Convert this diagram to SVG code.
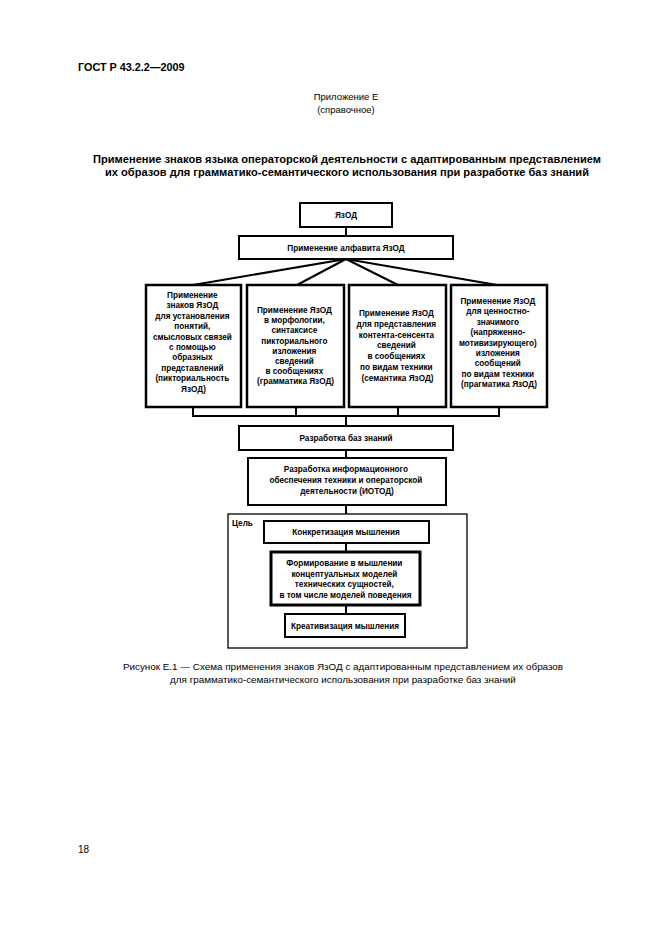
<svg xmlns="http://www.w3.org/2000/svg" width="661" height="935" viewBox="0 0 661 935">
<style>
text{font-family:"Liberation Sans",Arial,sans-serif;fill:#000}
.hdr{font-size:10.8px;font-weight:bold}
.reg{font-size:9.5px;text-anchor:middle}
.cap{font-size:9.85px;text-anchor:middle}
.ttl{font-size:11.1px;font-weight:bold;text-anchor:middle}
.bx{font-size:8.2px;font-weight:bold;text-anchor:middle}
.n{fill:#fff;stroke:#000;stroke-width:2}
.n4{fill:#fff;stroke:#000;stroke-width:2.5}
.nt{fill:#fff;stroke:#000;stroke-width:3}
.outer{fill:none;stroke:#000;stroke-width:1.3}
.c{fill:none;stroke:#000;stroke-width:2}
</style>
<rect width="661" height="935" fill="#fff"/>
<text class="hdr" x="78" y="71">ГОСТ Р 43.2.2—2009</text>
<text class="reg" x="346" y="100">Приложение Е</text>
<text class="reg" x="346" y="113">(справочное)</text>
<text class="ttl" x="347" y="163">Применение знаков языка операторской деятельности с адаптированным представлением</text>
<text class="ttl" x="347" y="176">их образов для грамматико-семантического использования при разработке баз знаний</text>

<g id="connectors">
<line class="c" x1="346" y1="227" x2="346" y2="236"/>
<line class="c" x1="346" y1="259" x2="193" y2="285"/>
<line class="c" x1="346" y1="259" x2="297" y2="285"/>
<line class="c" x1="346" y1="259" x2="398" y2="285"/>
<line class="c" x1="346" y1="259" x2="497" y2="285"/>
<line class="c" x1="193" y1="407" x2="193" y2="416"/>
<line class="c" x1="296" y1="407" x2="296" y2="416"/>
<line class="c" x1="398" y1="407" x2="398" y2="416"/>
<line class="c" x1="499" y1="407" x2="499" y2="416"/>
<line class="c" x1="192" y1="416" x2="500" y2="416"/>
<line class="c" x1="346" y1="416" x2="346" y2="426"/>
<line class="c" x1="346" y1="450" x2="346" y2="458"/>
<line class="c" x1="346" y1="505" x2="346" y2="514"/>
<line class="c" x1="346" y1="543" x2="346" y2="552"/>
<line class="c" x1="346" y1="605" x2="346" y2="614"/>
</g>

<g id="yazod">
<rect class="n" x="300" y="203" width="92" height="24"/>
<text class="bx" x="346" y="218">ЯзОД</text>
</g>
<g id="alphabet">
<rect class="n" x="239" y="236" width="214" height="23"/>
<text class="bx" x="346" y="251">Применение алфавита ЯзОД</text>
</g>

<g id="box1">
<rect class="n4" x="146" y="285" width="95" height="122"/>
<text class="bx">
<tspan x="193.5" y="298">Применение</tspan>
<tspan x="193.5" y="308.4">знаков ЯзОД</tspan>
<tspan x="193.5" y="318.8">для установления</tspan>
<tspan x="193.5" y="329.2">понятий,</tspan>
<tspan x="193.5" y="339.6">смысловых связей</tspan>
<tspan x="193.5" y="350">с помощью</tspan>
<tspan x="193.5" y="360.4">образных</tspan>
<tspan x="193.5" y="370.8">представлений</tspan>
<tspan x="193.5" y="381.2">(пикториальность</tspan>
<tspan x="193.5" y="391.6">ЯзОД)</tspan>
</text>
</g>

<g id="box2">
<rect class="n4" x="247" y="285" width="97" height="122"/>
<text class="bx">
<tspan x="295.5" y="313">Применение ЯзОД</tspan>
<tspan x="295.5" y="323.2">в морфологии,</tspan>
<tspan x="295.5" y="333.4">синтаксисе</tspan>
<tspan x="295.5" y="343.6">пикториального</tspan>
<tspan x="295.5" y="353.8">изложения</tspan>
<tspan x="295.5" y="364">сведений</tspan>
<tspan x="295.5" y="374.2">в сообщениях</tspan>
<tspan x="295.5" y="384.4">(грамматика ЯзОД)</tspan>
</text>
</g>

<g id="box3">
<rect class="n4" x="349" y="285" width="97" height="122"/>
<text class="bx">
<tspan x="397.5" y="316">Применение ЯзОД</tspan>
<tspan x="397.5" y="326.8">для представления</tspan>
<tspan x="397.5" y="337.6">контента-сенсента</tspan>
<tspan x="397.5" y="348.4">сведений</tspan>
<tspan x="397.5" y="359.2">в сообщениях</tspan>
<tspan x="397.5" y="370">по видам техники</tspan>
<tspan x="397.5" y="380.8">(семантика ЯзОД)</tspan>
</text>
</g>

<g id="box4">
<rect class="n4" x="451" y="285" width="96" height="122"/>
<text class="bx">
<tspan x="499" y="304">Применение ЯзОД</tspan>
<tspan x="499" y="314.4">для ценностно-</tspan>
<tspan x="499" y="324.8">значимого</tspan>
<tspan x="499" y="335.2">(напряженно-</tspan>
<tspan x="499" y="345.6">мотивизирующего)</tspan>
<tspan x="499" y="356">изложения</tspan>
<tspan x="499" y="366.4">сообщений</tspan>
<tspan x="499" y="376.8">по видам техники</tspan>
<tspan x="499" y="387.2">(прагматика ЯзОД)</tspan>
</text>
</g>

<g id="kb">
<rect class="n" x="239" y="426" width="214" height="24"/>
<text class="bx" x="346" y="441">Разработка баз знаний</text>
</g>

<g id="iotod">
<rect class="n" x="248" y="458" width="198" height="47"/>
<text class="bx">
<tspan x="347" y="472">Разработка информационного</tspan>
<tspan x="347" y="483">обеспечения техники и операторской</tspan>
<tspan x="347" y="494">деятельности (ИОТОД)</tspan>
</text>
</g>

<g id="goal">
<rect class="outer" x="228" y="514" width="239" height="134"/>
<text class="bx" x="232" y="526" style="text-anchor:start">Цель</text>
</g>

<g id="concretization">
<rect class="n" x="264" y="521" width="165" height="22"/>
<text class="bx" x="346" y="535">Конкретизация мышления</text>
</g>

<g id="formation">
<rect class="nt" x="271" y="552" width="149" height="53"/>
<text class="bx">
<tspan x="345.5" y="566">Формирование в мышлении</tspan>
<tspan x="345.5" y="576.5">концептуальных моделей</tspan>
<tspan x="345.5" y="587">технических сущностей,</tspan>
<tspan x="345.5" y="597.5">в том числе моделей поведения</tspan>
</text>
</g>

<g id="creativization">
<rect class="n" x="285" y="614" width="120" height="23"/>
<text class="bx" x="345" y="629">Креативизация мышления</text>
</g>

<text class="cap" x="343" y="670">Рисунок Е.1 — Схема применения знаков ЯзОД с адаптированным представлением их образов</text>
<text class="cap" x="343" y="683">для грамматико-семантического использования при разработке баз знаний</text>
<text x="78" y="853" style="font-size:10px">18</text>
</svg>
